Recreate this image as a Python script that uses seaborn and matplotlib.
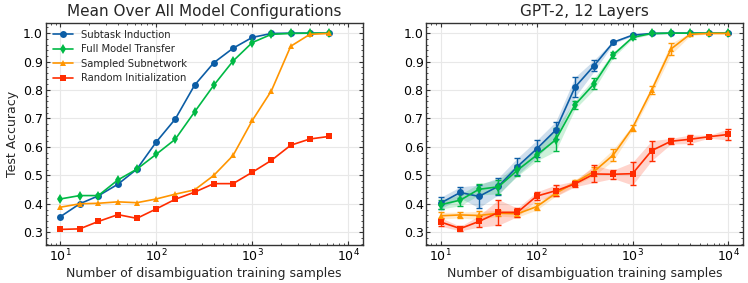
import matplotlib
matplotlib.use("Agg")
import matplotlib.pyplot as plt
import numpy as np
import pandas as pd
import seaborn as sns

# data
samples = [10, 16, 25, 40, 63, 100, 158, 251, 398, 631, 1000, 1585, 2512, 3981, 6310]
samples_r = samples + [10000]

methods = ["Subtask Induction", "Full Model Transfer", "Sampled Subnetwork", "Random Initialization"]
colors = ["#0C5DA5", "#00B945", "#FF9500", "#FF2C00"]
marks = ["o", "d", "^", "s"]

mean_subtask = [0.354, 0.40, 0.428, 0.469, 0.522, 0.617, 0.698, 0.817, 0.896, 0.947, 0.985, 0.999, 1.0, 1.0, 1.0]
mean_full = [0.417, 0.429, 0.429, 0.484, 0.522, 0.574, 0.627, 0.723, 0.817, 0.902, 0.967, 0.996, 0.999, 1.0, 1.0]
mean_sampled = [0.388, 0.40, 0.402, 0.407, 0.404, 0.417, 0.434, 0.449, 0.50, 0.57, 0.693, 0.798, 0.954, 0.996, 0.999]
mean_random = [0.31, 0.312, 0.338, 0.362, 0.349, 0.382, 0.416, 0.441, 0.471, 0.471, 0.511, 0.553, 0.606, 0.628, 0.637]

gpt_subtask = [0.403, 0.44, 0.426, 0.462, 0.531, 0.593, 0.659, 0.81, 0.886, 0.968, 0.993, 0.999, 1.0, 1.0, 1.0, 1.0]
gpt_full = [0.397, 0.413, 0.451, 0.46, 0.518, 0.571, 0.625, 0.748, 0.822, 0.924, 0.985, 0.999, 1.0, 1.0, 1.0, 1.0]
gpt_sampled = [0.358, 0.361, 0.359, 0.367, 0.365, 0.39, 0.437, 0.475, 0.514, 0.572, 0.667, 0.80, 0.944, 0.996, 0.999, 0.999]
gpt_random = [0.336, 0.313, 0.338, 0.37, 0.37, 0.427, 0.446, 0.47, 0.505, 0.504, 0.506, 0.587, 0.62, 0.627, 0.636, 0.644]

err_subtask = [0.02, 0.02, 0.04, 0.03, 0.03, 0.03, 0.03, 0.035, 0.02, 0.005, 0.003, 0.002, 0.001, 0.001, 0.001, 0.001]
err_full = [0.015, 0.02, 0.02, 0.025, 0.02, 0.02, 0.04, 0.015, 0.02, 0.01, 0.005, 0.003, 0.001, 0.001, 0.001, 0.001]
err_sampled = [0.012, 0.01, 0.015, 0.01, 0.012, 0.012, 0.01, 0.01, 0.015, 0.02, 0.01, 0.015, 0.02, 0.005, 0.002, 0.002]
err_random = [0.015, 0.008, 0.02, 0.045, 0.015, 0.015, 0.02, 0.01, 0.03, 0.015, 0.04, 0.035, 0.01, 0.015, 0.005, 0.02]

sns.set_style("ticks")
plt.rcParams.update({
    "font.family": ["DejaVu Sans"],
    "xtick.direction": "in", "ytick.direction": "in",
    "xtick.top": True, "ytick.right": True,
    "xtick.minor.visible": True, "ytick.minor.visible": True,
    "xtick.major.size": 3, "ytick.major.size": 3,
    "xtick.minor.size": 1.5, "ytick.minor.size": 1.5,
    "axes.edgecolor": "#333333",
    "axes.linewidth": 1.0,
})

left_df = pd.DataFrame({
    "samples": samples * 4,
    "acc": mean_subtask + mean_full + mean_sampled + mean_random,
    "method": sum([[m] * len(samples) for m in methods], []),
})
right_df = pd.DataFrame({
    "samples": samples_r * 4,
    "acc": gpt_subtask + gpt_full + gpt_sampled + gpt_random,
    "err": err_subtask + err_full + err_sampled + err_random,
    "method": sum([[m] * len(samples_r) for m in methods], []),
})
palette = dict(zip(methods, colors))
markers = dict(zip(methods, marks))

fig = plt.figure(figsize=(7.48, 2.83), dpi=100)
ax1 = fig.add_axes([0.061, 0.134, 0.424, 0.786])
ax2 = fig.add_axes([0.570, 0.134, 0.423, 0.786])

sns.lineplot(data=left_df, x="samples", y="acc", hue="method", style="method",
             palette=palette, markers=markers, dashes=False, markersize=5,
             markeredgewidth=0, linewidth=1.2, ax=ax1)

for m in methods:
    sub = right_df[right_df["method"] == m]
    ax2.fill_between(sub["samples"], sub["acc"] - sub["err"], sub["acc"] + sub["err"],
                     color=palette[m], alpha=0.2, linewidth=0)
    ax2.errorbar(sub["samples"], sub["acc"], yerr=sub["err"], fmt="none",
                 ecolor=palette[m], elinewidth=1, capsize=2, capthick=1)
sns.lineplot(data=right_df, x="samples", y="acc", hue="method", style="method",
             palette=palette, markers=markers, dashes=False, markersize=5,
             markeredgewidth=0, linewidth=1.2, ax=ax2, legend=False)

for ax, title in [(ax1, "Mean Over All Model Configurations"), (ax2, "GPT-2, 12 Layers")]:
    ax.set_xscale("log")
    ax.set_xlim(10 ** 0.85, 10 ** 4.15)
    ax.set_ylim(0.255, 1.037)
    ax.set_yticks([0.3, 0.4, 0.5, 0.6, 0.7, 0.8, 0.9, 1.0])
    ax.yaxis.set_minor_locator(matplotlib.ticker.MultipleLocator(0.02))
    ax.grid(True, which="major", color="#e8e8e8", linewidth=0.8)
    ax.set_axisbelow(True)
    ax.tick_params(labelsize=9, which="both", pad=2, colors="#333333", labelcolor="black")
    ax.set_xlabel("Number of disambiguation training samples", fontsize=9, labelpad=2)
    ax.set_title(title, fontsize=11, pad=5)
ax1.set_ylabel("Test Accuracy", fontsize=9, labelpad=3)
ax2.set_ylabel("")

leg = ax1.legend(loc="upper left", fontsize=7.2, frameon=False, handlelength=2.0,
                 borderaxespad=0.3, labelspacing=0.45)

fig.savefig("out.png", dpi=100)
